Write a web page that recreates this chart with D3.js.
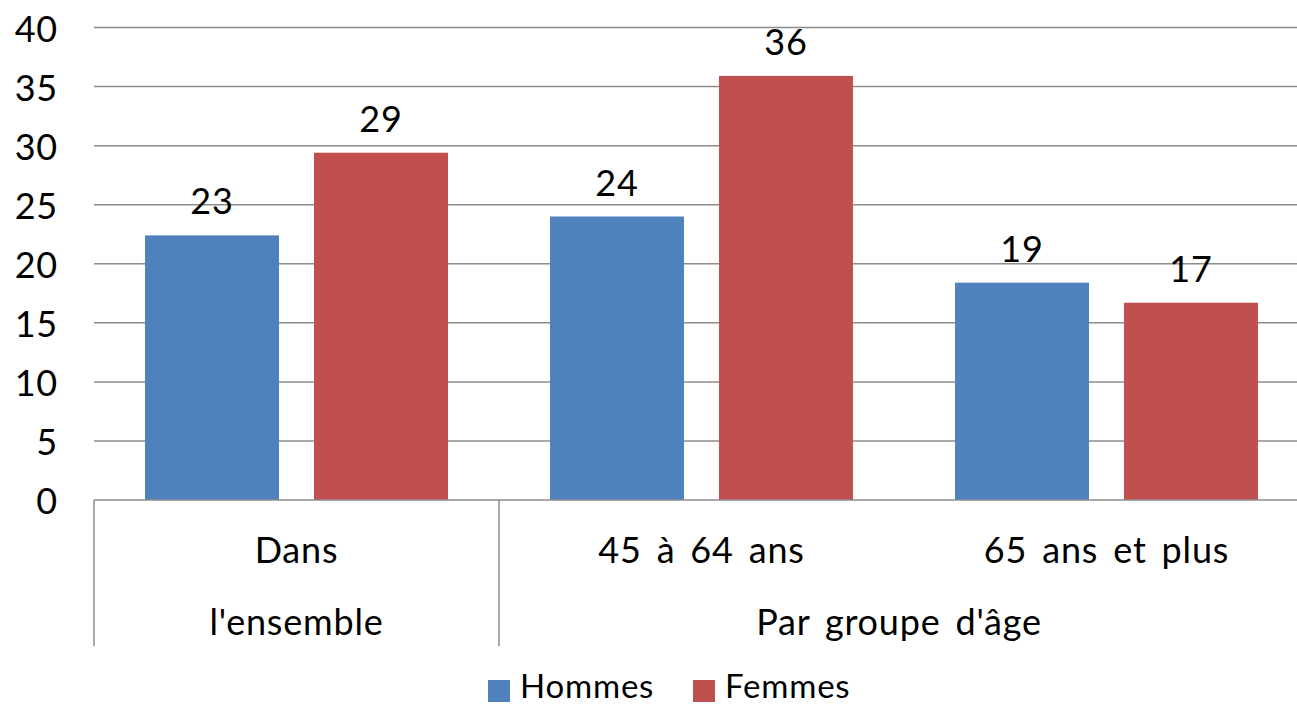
<!DOCTYPE html>
<html><head><meta charset="utf-8">
<script src="https://cdn.jsdelivr.net/npm/d3@7"></script>
<style>body{margin:0;background:#fff}svg{display:block}text{font-family:Lato,"DejaVu Sans",sans-serif;fill:#000;letter-spacing:0.8px;word-spacing:5px}</style>
</head><body>
<svg id="c" width="1297" height="706"></svg>
<script>
const categories = ["Dans l'ensemble", "45 à 64 ans", "65 ans et plus"];
const categoryLines = [["Dans", "l'ensemble"], ["45 à 64 ans"], ["65 ans et plus"]];
const groups = [{label: "", from: 0, to: 0}, {label: "Par groupe d'âge", from: 1, to: 2}];
const series = ["Hommes", "Femmes"];
const hommes = [22.4, 24.0, 18.4];
const femmes = [29.4, 35.9, 16.7];
const hommesLabels = ["23", "24", "19"];
const femmesLabels = ["29", "36", "17"];
const yTicks = [0, 5, 10, 15, 20, 25, 30, 35, 40];
const colors = ["#4F81BD", "#C0504D"];

const values = [hommes, femmes];
const labels = [hommesLabels, femmesLabels];
const svg = d3.select("#c");
const W = 1297;
const y = d3.scaleLinear().domain([0, 40]).range([500, 27.5]);
const x = d3.scaleBand().domain(categories).range([94, 1309]).padding(0);
const xs = d3.scaleBand().domain(series).range([0, x.bandwidth()]).paddingInner(0.207).paddingOuter(0.302);

// gridlines
svg.append("g").selectAll("line").data(yTicks.filter(d => d > 0)).join("line")
  .attr("x1", 94).attr("x2", W).attr("y1", d => y(d)).attr("y2", d => y(d))
  .attr("stroke", "#8c8c8c").attr("stroke-width", 1.5);

// y tick labels
svg.append("g").selectAll("text").data(yTicks).join("text")
  .attr("x", 58).attr("y", d => y(d)).attr("text-anchor", "end").attr("dominant-baseline", "central")
  .attr("font-size", 36).text(d => d);

// bars
series.forEach((s, si) => {
  const g = svg.append("g");
  g.selectAll("rect").data(categories).join("rect")
    .attr("x", (c) => x(c) + xs(s)).attr("width", xs.bandwidth())
    .attr("y", (c, i) => y(values[si][i])).attr("height", (c, i) => y(0) - y(values[si][i]))
    .attr("fill", colors[si]);
  g.selectAll("text").data(categories).join("text")
    .attr("x", c => x(c) + xs(s) + xs.bandwidth() / 2)
    .attr("y", (c, i) => y(values[si][i]) - 21)
    .attr("text-anchor", "middle").attr("font-size", 36)
    .text((c, i) => labels[si][i]);
});

// baseline axis
svg.append("line").attr("x1", 94).attr("x2", W).attr("y1", y(0)).attr("y2", y(0))
  .attr("stroke", "#8c8c8c").attr("stroke-width", 1.5);

// category axis vertical dividers
const dividers = [x(categories[0]), x(categories[1])];
svg.append("g").selectAll("line").data(dividers).join("line")
  .attr("x1", d => d).attr("x2", d => d).attr("y1", y(0)).attr("y2", 646)
  .attr("stroke", "#8c8c8c").attr("stroke-width", 1.5);

// category labels
categories.forEach((c, i) => {
  const lines = categoryLines[i];
  lines.forEach((t, j) => {
    svg.append("text").attr("x", x(c) + x.bandwidth() / 2).attr("y", 563 + j * 72)
      .attr("text-anchor", "middle").attr("font-size", 36).text(t);
  });
});
// group labels
groups.filter(g => g.label).forEach(g => {
  const x0 = x(categories[g.from]), x1 = x(categories[g.to]) + x.bandwidth();
  svg.append("text").attr("x", (x0 + x1) / 2 - 5).attr("y", 635)
    .attr("text-anchor", "middle").attr("font-size", 36).text(g.label);
});

// legend
const leg = svg.append("g");
const legX = [488, 693];
series.forEach((s, i) => {
  leg.append("rect").attr("x", legX[i]).attr("y", 680).attr("width", 22).attr("height", 22).attr("fill", colors[i]);
  leg.append("text").attr("x", legX[i] + 32).attr("y", 698).attr("font-size", 33).text(s);
});
</script>
</body></html>
